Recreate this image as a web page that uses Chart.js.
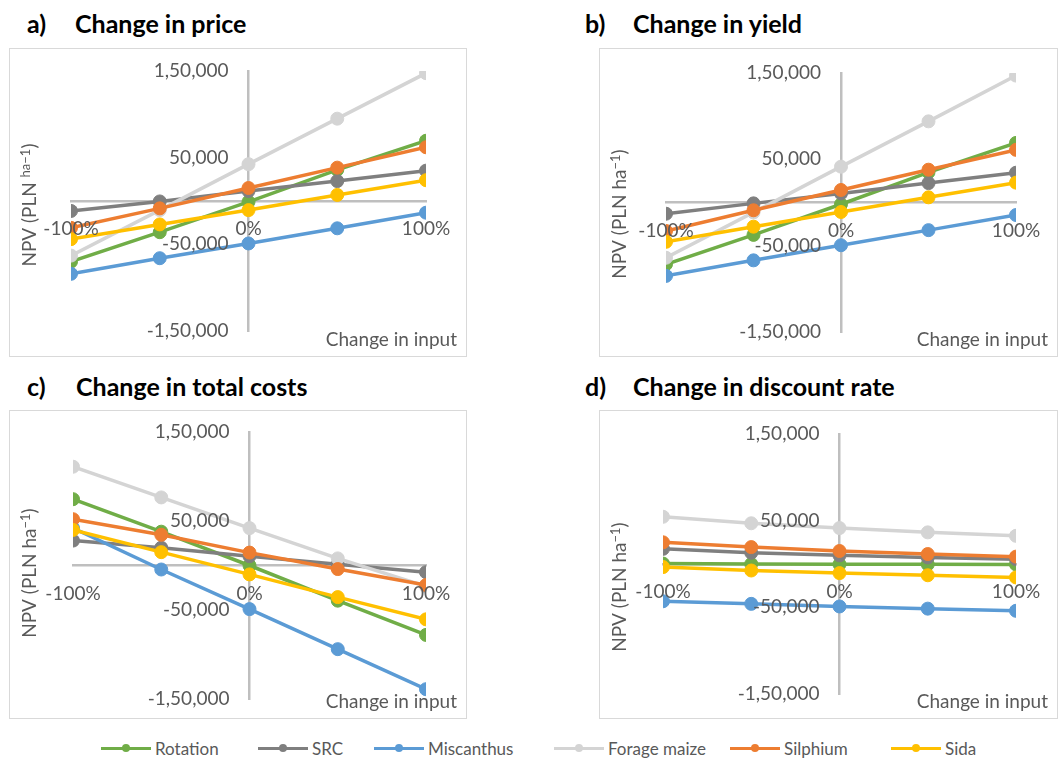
<!DOCTYPE html>
<html>
<head>
<meta charset="utf-8">
<script src="https://cdn.jsdelivr.net/npm/chart.js@4.4.1/dist/chart.umd.min.js"></script>
<style>
  html, body { margin: 0; padding: 0; background: #ffffff; }
  body { width: 1061px; height: 762px; position: relative; overflow: hidden; font-family: Lato, "Open Sans", sans-serif; }
  .frame { position: absolute; box-sizing: border-box; border: 1.5px solid #d9d9d9; }
  .panel { position: absolute; }
  .ptitle { position: absolute; font-weight: bold; font-size: 25px; color: #000; line-height: 30px; white-space: nowrap; }
  .legend-item { position: absolute; top: 738px; height: 20px; display: flex; align-items: center; color: #595959; font-size: 17px; white-space: nowrap; }
  .legend-swatch { position: relative; width: 50px; height: 20px; margin-right: 4px; }
  .legend-swatch .ln { position: absolute; left: 0; right: 0; top: 8.5px; height: 3px; }
  .legend-swatch .dot { position: absolute; left: 21px; top: 6px; width: 8px; height: 8px; border-radius: 50%; }
</style>
</head>
<body>
<script>
// Sensitivity steps (% change of the input)
const categories = [-100, -50, 0, 50, 100];
const seriesNames = ['Rotation', 'SRC', 'Miscanthus', 'Forage maize', 'Silphium', 'Sida'];
const seriesColors = ['#70AD47', '#7F7F7F', '#5B9BD5', '#D4D4D4', '#ED7D31', '#FFC000'];

// Axis ticks
const xTickValues = [-100, 0, 100];
const yTickValues = [150000, 50000, -50000, -150000];
const xCaption = 'Change in input';

// NPV (PLN/ha) per series, one array per scenario
const priceRotation = [-70000, -36000, -1000, 36000, 69500];
const priceSRC = [-11500, -500, 11500, 23000, 35000];
const priceMiscanthus = [-84000, -66000, -49000, -31500, -13500];
const priceMaize = [-63000, -10500, 42500, 95000, 147500];
const priceSilphium = [-31000, -8500, 15000, 38500, 62000];
const priceSida = [-44000, -27000, -10500, 7000, 24000];

const yieldRotation = [-71500, -37500, -2000, 35000, 69000];
const yieldSRC = [-13000, -1000, 10500, 22500, 34500];
const yieldMiscanthus = [-85000, -67000, -49500, -32000, -14500];
const yieldMaize = [-64000, -11500, 41500, 94000, 147000];
const yieldSilphium = [-33000, -9000, 14500, 38000, 61000];
const yieldSida = [-45500, -28000, -11000, 6000, 23000];

const costRotation = [74500, 38000, 0, -39500, -78000];
const costSRC = [28000, 20000, 10500, 1500, -7500];
const costMiscanthus = [42000, -4500, -49000, -94000, -139000];
const costMaize = [111000, 76500, 42000, 8000, -23500];
const costSilphium = [52000, 34500, 14500, -4000, -22000];
const costSida = [40000, 15000, -10000, -35500, -60500];

const discRotation = [500, 0, -300, -400, -500];
const discSRC = [17500, 13000, 10000, 7500, 5500];
const discMiscanthus = [-43000, -46000, -49000, -51500, -54000];
const discMaize = [54500, 47000, 41500, 36500, 32500];
const discSilphium = [25000, 19500, 15000, 11500, 8500];
const discSida = [-3500, -7500, -10500, -13000, -15500];

// Panel layout: frame box, chart-area padding, y-title placement
const panels = [
  { tag: 'a)', title: 'Change in price', tagX: 27, textX: 75, titleY: 8,
    box: { left: 9, top: 48, w: 458, h: 309 }, pad: { left: 62, right: 41, top: 23, bottom: 26 },
    yTitle: { x: 20, y: 157, supAll: true },
    series: [priceRotation, priceSRC, priceMiscanthus, priceMaize, priceSilphium, priceSida] },
  { tag: 'b)', title: 'Change in yield', tagX: 585, textX: 633, titleY: 8,
    box: { left: 599, top: 48, w: 459, h: 309 }, pad: { left: 67, right: 42, top: 25, bottom: 25 },
    yTitle: { x: 20, y: 166, supAll: false },
    series: [yieldRotation, yieldSRC, yieldMiscanthus, yieldMaize, yieldSilphium, yieldSida] },
  { tag: 'c)', title: 'Change in total costs', tagX: 27, textX: 76, titleY: 371,
    box: { left: 9, top: 410, w: 458, h: 309 }, pad: { left: 64, right: 41, top: 22, bottom: 20 },
    yTitle: { x: 20, y: 163, supAll: false },
    series: [costRotation, costSRC, costMiscanthus, costMaize, costSilphium, costSida] },
  { tag: 'd)', title: 'Change in discount rate', tagX: 585, textX: 633, titleY: 371,
    box: { left: 599, top: 410, w: 459, h: 309 }, pad: { left: 64, right: 42, top: 24, bottom: 25 },
    yTitle: { x: 20, y: 177, supAll: false },
    series: [discRotation, discSRC, discMiscanthus, discMaize, discSilphium, discSida] }
];

const TEXT_GREY = '#595959';
const AXIS_GREY = '#BFBFBF';
const LABEL_FONT = '19px Lato, "Open Sans", sans-serif';

// 1,50,000 style digit grouping
function formatGrouped(v) {
  const sign = v < 0 ? '-' : '';
  const s = String(Math.abs(Math.round(v)));
  if (s.length <= 3) return sign + s;
  const last3 = s.slice(-3);
  const rest = s.slice(0, -3).replace(/\B(?=(\d{2})+(?!\d))/g, ',');
  return sign + rest + ',' + last3;
}

// Tick labels, axis caption and rotated y title drawn over the series
const axisText = {
  id: 'axisText',
  afterDatasetsDraw(chart, args, opts) {
    const ctx = chart.ctx;
    const xs = chart.scales.x, ys = chart.scales.y;
    const x0 = xs.getPixelForValue(0);
    const y0 = ys.getPixelForValue(0);
    ctx.save();
    ctx.fillStyle = TEXT_GREY;
    ctx.font = LABEL_FONT;
    ctx.textBaseline = 'middle';
    ctx.textAlign = 'right';
    yTickValues.forEach(v => ctx.fillText(formatGrouped(v), x0 - 20, ys.getPixelForValue(v)));
    ctx.textAlign = 'center';
    xTickValues.forEach(v => ctx.fillText(v + '%', xs.getPixelForValue(v), y0 + 28));
    ctx.textAlign = 'right';
    ctx.fillText(xCaption, chart.width - 10, chart.height - 17);

    // y title with superscript unit
    const yt = opts.yTitle;
    const big = LABEL_FONT;
    const small = '13px Lato, "Open Sans", sans-serif';
    const parts = yt.supAll
      ? [['NPV (PLN ', big, 0], ['ha\u22121', small, -6], [')', big, 0]]
      : [['NPV (PLN ha', big, 0], ['\u22121', small, -6], [')', big, 0]];
    let total = 0;
    parts.forEach(p => { ctx.font = p[1]; total += ctx.measureText(p[0]).width; });
    ctx.translate(yt.x, yt.y);
    ctx.rotate(-Math.PI / 2);
    ctx.textAlign = 'left';
    ctx.textBaseline = 'alphabetic';
    let cx = -total / 2;
    parts.forEach(p => {
      ctx.font = p[1];
      ctx.fillText(p[0], cx, 7 + p[2]);
      cx += ctx.measureText(p[0]).width;
    });
    ctx.restore();
  }
};

panels.forEach(p => {
  const frame = document.createElement('div');
  frame.className = 'frame';
  Object.assign(frame.style, { left: p.box.left + 'px', top: p.box.top + 'px', width: p.box.w + 'px', height: p.box.h + 'px' });
  document.body.appendChild(frame);

  const tag = document.createElement('div');
  tag.className = 'ptitle';
  tag.textContent = p.tag;
  Object.assign(tag.style, { left: p.tagX + 'px', top: p.titleY + 'px' });
  document.body.appendChild(tag);
  const ttl = document.createElement('div');
  ttl.className = 'ptitle';
  ttl.textContent = p.title;
  Object.assign(ttl.style, { left: p.textX + 'px', top: p.titleY + 'px' });
  document.body.appendChild(ttl);

  const canvas = document.createElement('canvas');
  canvas.className = 'panel';
  canvas.width = p.box.w;
  canvas.height = p.box.h;
  Object.assign(canvas.style, { left: p.box.left + 'px', top: p.box.top + 'px', width: p.box.w + 'px', height: p.box.h + 'px' });
  document.body.appendChild(canvas);

  const n = seriesNames.length;
  const datasets = seriesNames.map((name, i) => ({
    label: name,
    data: categories.map((c, k) => ({ x: c, y: p.series[i][k] })),
    borderColor: seriesColors[i],
    backgroundColor: seriesColors[i],
    pointBackgroundColor: seriesColors[i],
    pointBorderColor: seriesColors[i],
    borderWidth: 3.5,
    pointRadius: 6.5,
    pointBorderWidth: 1,
    tension: 0,
    order: n - 1 - i
  }));

  new Chart(canvas, {
    type: 'line',
    data: { datasets },
    options: {
      responsive: false,
      animation: false,
      devicePixelRatio: 1,
      layout: { padding: p.pad },
      plugins: { legend: { display: false }, tooltip: { enabled: false }, axisText: { yTitle: p.yTitle } },
      scales: {
        x: {
          type: 'linear', min: -100, max: 100,
          position: { y: 0 },
          grid: { display: false, drawTicks: false },
          border: { display: true, color: AXIS_GREY, width: 2.5 },
          ticks: { display: false, stepSize: 100 }
        },
        y: {
          type: 'linear', min: -150000, max: 150000,
          position: { x: 0 },
          grid: { display: false, drawTicks: false },
          border: { display: true, color: AXIS_GREY, width: 2.5 },
          ticks: { display: false, stepSize: 100000 }
        }
      }
    },
    plugins: [axisText]
  });
});

// Legend row
const legendLefts = [101, 258, 374, 554, 730, 891];
seriesNames.forEach((name, i) => {
  const item = document.createElement('div');
  item.className = 'legend-item';
  item.style.left = legendLefts[i] + 'px';
  item.innerHTML = '<span class="legend-swatch"><span class="ln" style="background:' + seriesColors[i] +
    '"></span><span class="dot" style="background:' + seriesColors[i] + '"></span></span><span>' + name + '</span>';
  document.body.appendChild(item);
});
</script>
</body>
</html>
